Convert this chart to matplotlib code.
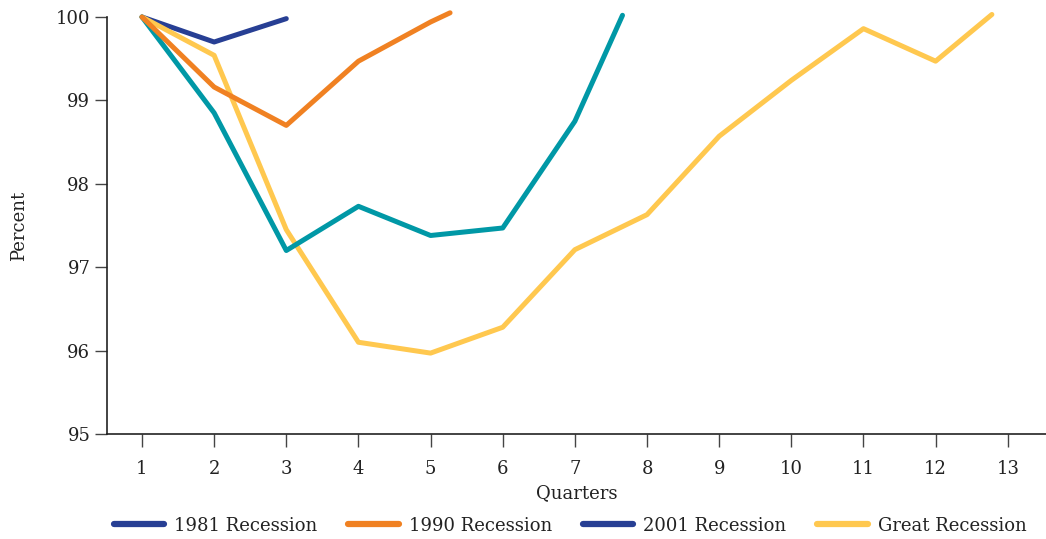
import matplotlib
matplotlib.use('Agg')
import matplotlib.pyplot as plt
from matplotlib.lines import Line2D

# data
x_1981 = [1, 2, 3, 4, 5, 6, 7, 7.66]
y_1981 = [100, 98.85, 97.2, 97.73, 97.38, 97.47, 98.75, 100.02]

x_1990 = [1, 2, 3, 4, 5, 5.27]
y_1990 = [100, 99.16, 98.7, 99.47, 99.94, 100.05]

x_2001 = [1, 2, 3]
y_2001 = [100, 99.7, 99.98]

x_great = [1, 2, 3, 4, 5, 6, 7, 8, 9, 10, 11, 12, 12.78]
y_great = [100, 99.54, 97.45, 96.1, 95.97, 96.28, 97.21, 97.63, 98.57, 99.24, 99.86, 99.47, 100.03]

quarters = list(range(1, 14))
yticks = [95, 96, 97, 98, 99, 100]

c_teal = '#0098a6'
c_orange = '#f08122'
c_blue = '#273f94'
c_yellow = '#ffc84f'

plt.rcParams['font.family'] = ['DejaVu Serif']
fs = 13

fig = plt.figure(figsize=(10.46, 5.39), dpi=100)
ax = fig.add_axes([0.1023, 0.1948, 0.8977, 0.7737])

lw = 3.6
ax.plot(x_great, y_great, color=c_yellow, lw=lw, clip_on=False, solid_capstyle='round', zorder=2)
ax.plot(x_1981, y_1981, color=c_teal, lw=lw, clip_on=False, solid_capstyle='round', zorder=3)
ax.plot(x_1990, y_1990, color=c_orange, lw=lw, clip_on=False, solid_capstyle='round', zorder=4)
ax.plot(x_2001, y_2001, color=c_blue, lw=lw, clip_on=False, solid_capstyle='round', zorder=1)

ax.set_xlim(0.515, 13.53)
ax.set_ylim(95, 100)
ax.set_xticks(quarters)
ax.set_yticks(yticks)
for s in ['top', 'right']:
    ax.spines[s].set_visible(False)
for s in ['left', 'bottom']:
    ax.spines[s].set_linewidth(1.2)
    ax.spines[s].set_color('#222222')
ax.tick_params(axis='both', length=9, width=1, color='#444444', labelcolor='#222222', labelsize=fs)
ax.tick_params(axis='x', pad=10)
ax.tick_params(axis='y', pad=3)

ax.set_xlabel('Quarters', fontsize=fs, labelpad=4, color='#222222')
ax.set_ylabel('Percent', fontsize=fs, labelpad=20, color='#222222')

handles = [Line2D([], [], color=c, lw=4.5, solid_capstyle='round') for c in [c_blue, c_orange, c_blue, c_yellow]]
labels = ['1981 Recession', '1990 Recession', '2001 Recession', 'Great Recession']
fig.legend(handles, labels, loc='lower center', bbox_to_anchor=(0.545, -0.022), ncol=4,
           frameon=False, handlelength=2.8, handletextpad=0.55, columnspacing=1.7,
           fontsize=fs, labelcolor='#222222')

fig.savefig('out.png', dpi=100)
